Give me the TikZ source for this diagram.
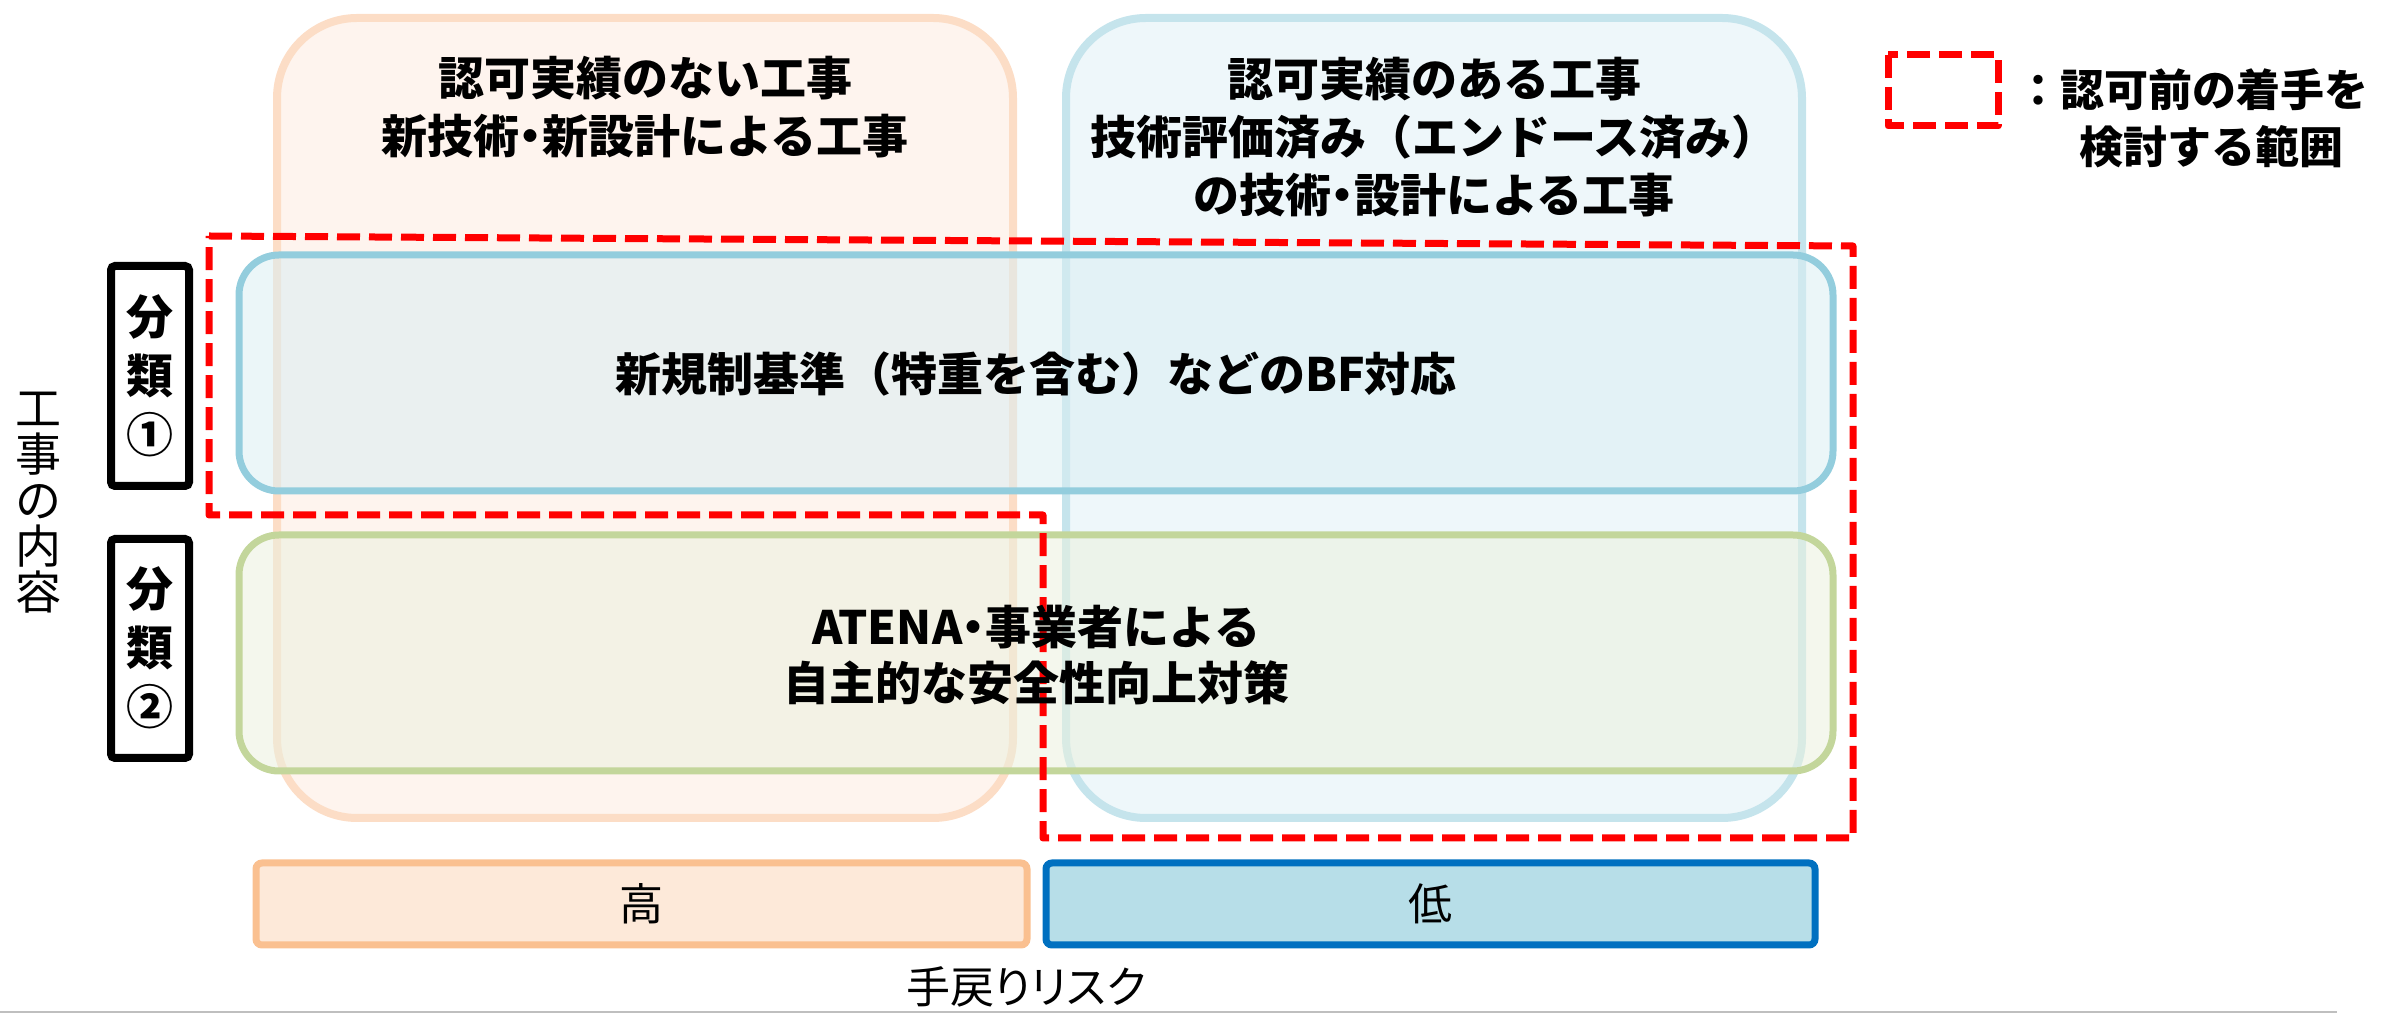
\documentclass[tikz,border=0pt]{standalone}
\usepackage{fontspec}
\setmainfont{Noto Sans CJK JP}
\newfontfamily\jpprop{Noto Sans CJK JP}[RawFeature=+palt]
\newcommand{\middot}{{\jpprop ・}}

\begin{document}
\begin{tikzpicture}[x=0.25pt, y=-0.25pt,
    tallbox/.style={line width=2pt, rounded corners=20pt},
    widebox/.style={line width=1.75pt, rounded corners=10pt, fill opacity=0.55},
    redzone/.style={draw=zonered, line width=1.75pt, dash pattern=on 5.75pt off 2.25pt, line join=round},
    tagbox/.style={draw=black, line width=2pt, rounded corners=1pt, fill=white},
    riskbox/.style={line width=1.75pt, rounded corners=1.5pt},
    head/.style={align=center, font=\bfseries\fontsize{11.5pt}{14.6pt}\selectfont},
    tagtext/.style={align=center, font=\bfseries\fontsize{11.75pt}{14.75pt}\selectfont}]
  % Define colors
  \definecolor{oldfill}{HTML}{FEF4EE}
  \definecolor{oldborder}{HTML}{FCDDC6}
  \definecolor{newfill}{HTML}{EEF7FA}
  \definecolor{newborder}{HTML}{C5E4EC}
  \definecolor{bfborder}{HTML}{93CDDD}
  \definecolor{bffill}{HTML}{DAEEF3}
  \definecolor{selfborder}{HTML}{C3D69B}
  \definecolor{selffill}{HTML}{EBF1DE}
  \definecolor{zonered}{HTML}{FF0000}
  \definecolor{highfill}{HTML}{FDE9D9}
  \definecolor{highborder}{HTML}{FAC090}
  \definecolor{lowfill}{HTML}{B7DEE8}
  \definecolor{lowborder}{HTML}{0070C0}

  \useasboundingbox (0,0) rectangle (2389,1014);

  % Columns: without / with approval record
  \draw[tallbox, draw=oldborder, fill=oldfill] (277,18) rectangle (1013,818);
  \draw[tallbox, draw=newborder, fill=newfill] (1066,18) rectangle (1802,818);
  \node[head] (oldhead) at (645,107) {認可実績のない工事\\新技術\middot 新設計による工事};
  \node[head] (newhead) at (1434,137) {認可実績のある工事\\技術評価済み（エンドース済み）\\の技術\middot 設計による工事};

  % Rows: category 1 and 2
  \draw[widebox, draw=bfborder, fill=bffill, draw opacity=1] (239,255) rectangle (1833,491);
  \draw[widebox, draw=selfborder, fill=selffill, draw opacity=1] (239,535) rectangle (1833,771);

  % Range considered before approval
  \draw[redzone] (209,236) -- (1853,246) -- (1853,838) -- (1043,838)
    -- (1043,515) -- (209,515) -- cycle;

  \node[head] (bftext) at (1036,374) {新規制基準（特重を含む）などのBF対応};
  \node[head, font=\bfseries\fontsize{11.5pt}{14pt}\selectfont] (selftext) at (1036,655)
    {ATENA\middot 事業者による\\自主的な安全性向上対策};

  % Category tags
  \draw[tagbox] (111,266) rectangle (189,486);
  \node[tagtext] (tagone) at (150,376) {分\\類\\①};
  \draw[tagbox] (111,539) rectangle (189,758);
  \node[tagtext] (tagtwo) at (150,648) {分\\類\\②};
  \node[align=center, font=\fontsize{11.5pt}{11.5pt}\selectfont] (content) at (39,503)
    {工\\事\\の\\内\\容};

  % Rework risk
  \draw[riskbox, draw=highborder, fill=highfill] (256,863) rectangle (1027,945);
  \node[font=\fontsize{11pt}{11pt}\selectfont] (high) at (641,904) {高};
  \draw[riskbox, draw=lowborder, fill=lowfill] (1046,863) rectangle (1815,945);
  \node[font=\fontsize{11pt}{11pt}\selectfont] (low) at (1430,904) {低};
  \node[font=\jpprop\fontsize{11pt}{11pt}\selectfont] (risk) at (1026,987) {手戻りリスク};
  \draw[black!25, line width=0.5pt] (0,1012) -- (2337,1012);

  % Legend
  \draw[redzone] (1888,55) rectangle (1998,126);
  \node[font=\bfseries\fontsize{11pt}{11pt}\selectfont] (legendone) at (2192,90) {：認可前の着手を};
  \node[font=\bfseries\fontsize{11pt}{11pt}\selectfont] (legendtwo) at (2211,147) {検討する範囲};
\end{tikzpicture}
\end{document}
